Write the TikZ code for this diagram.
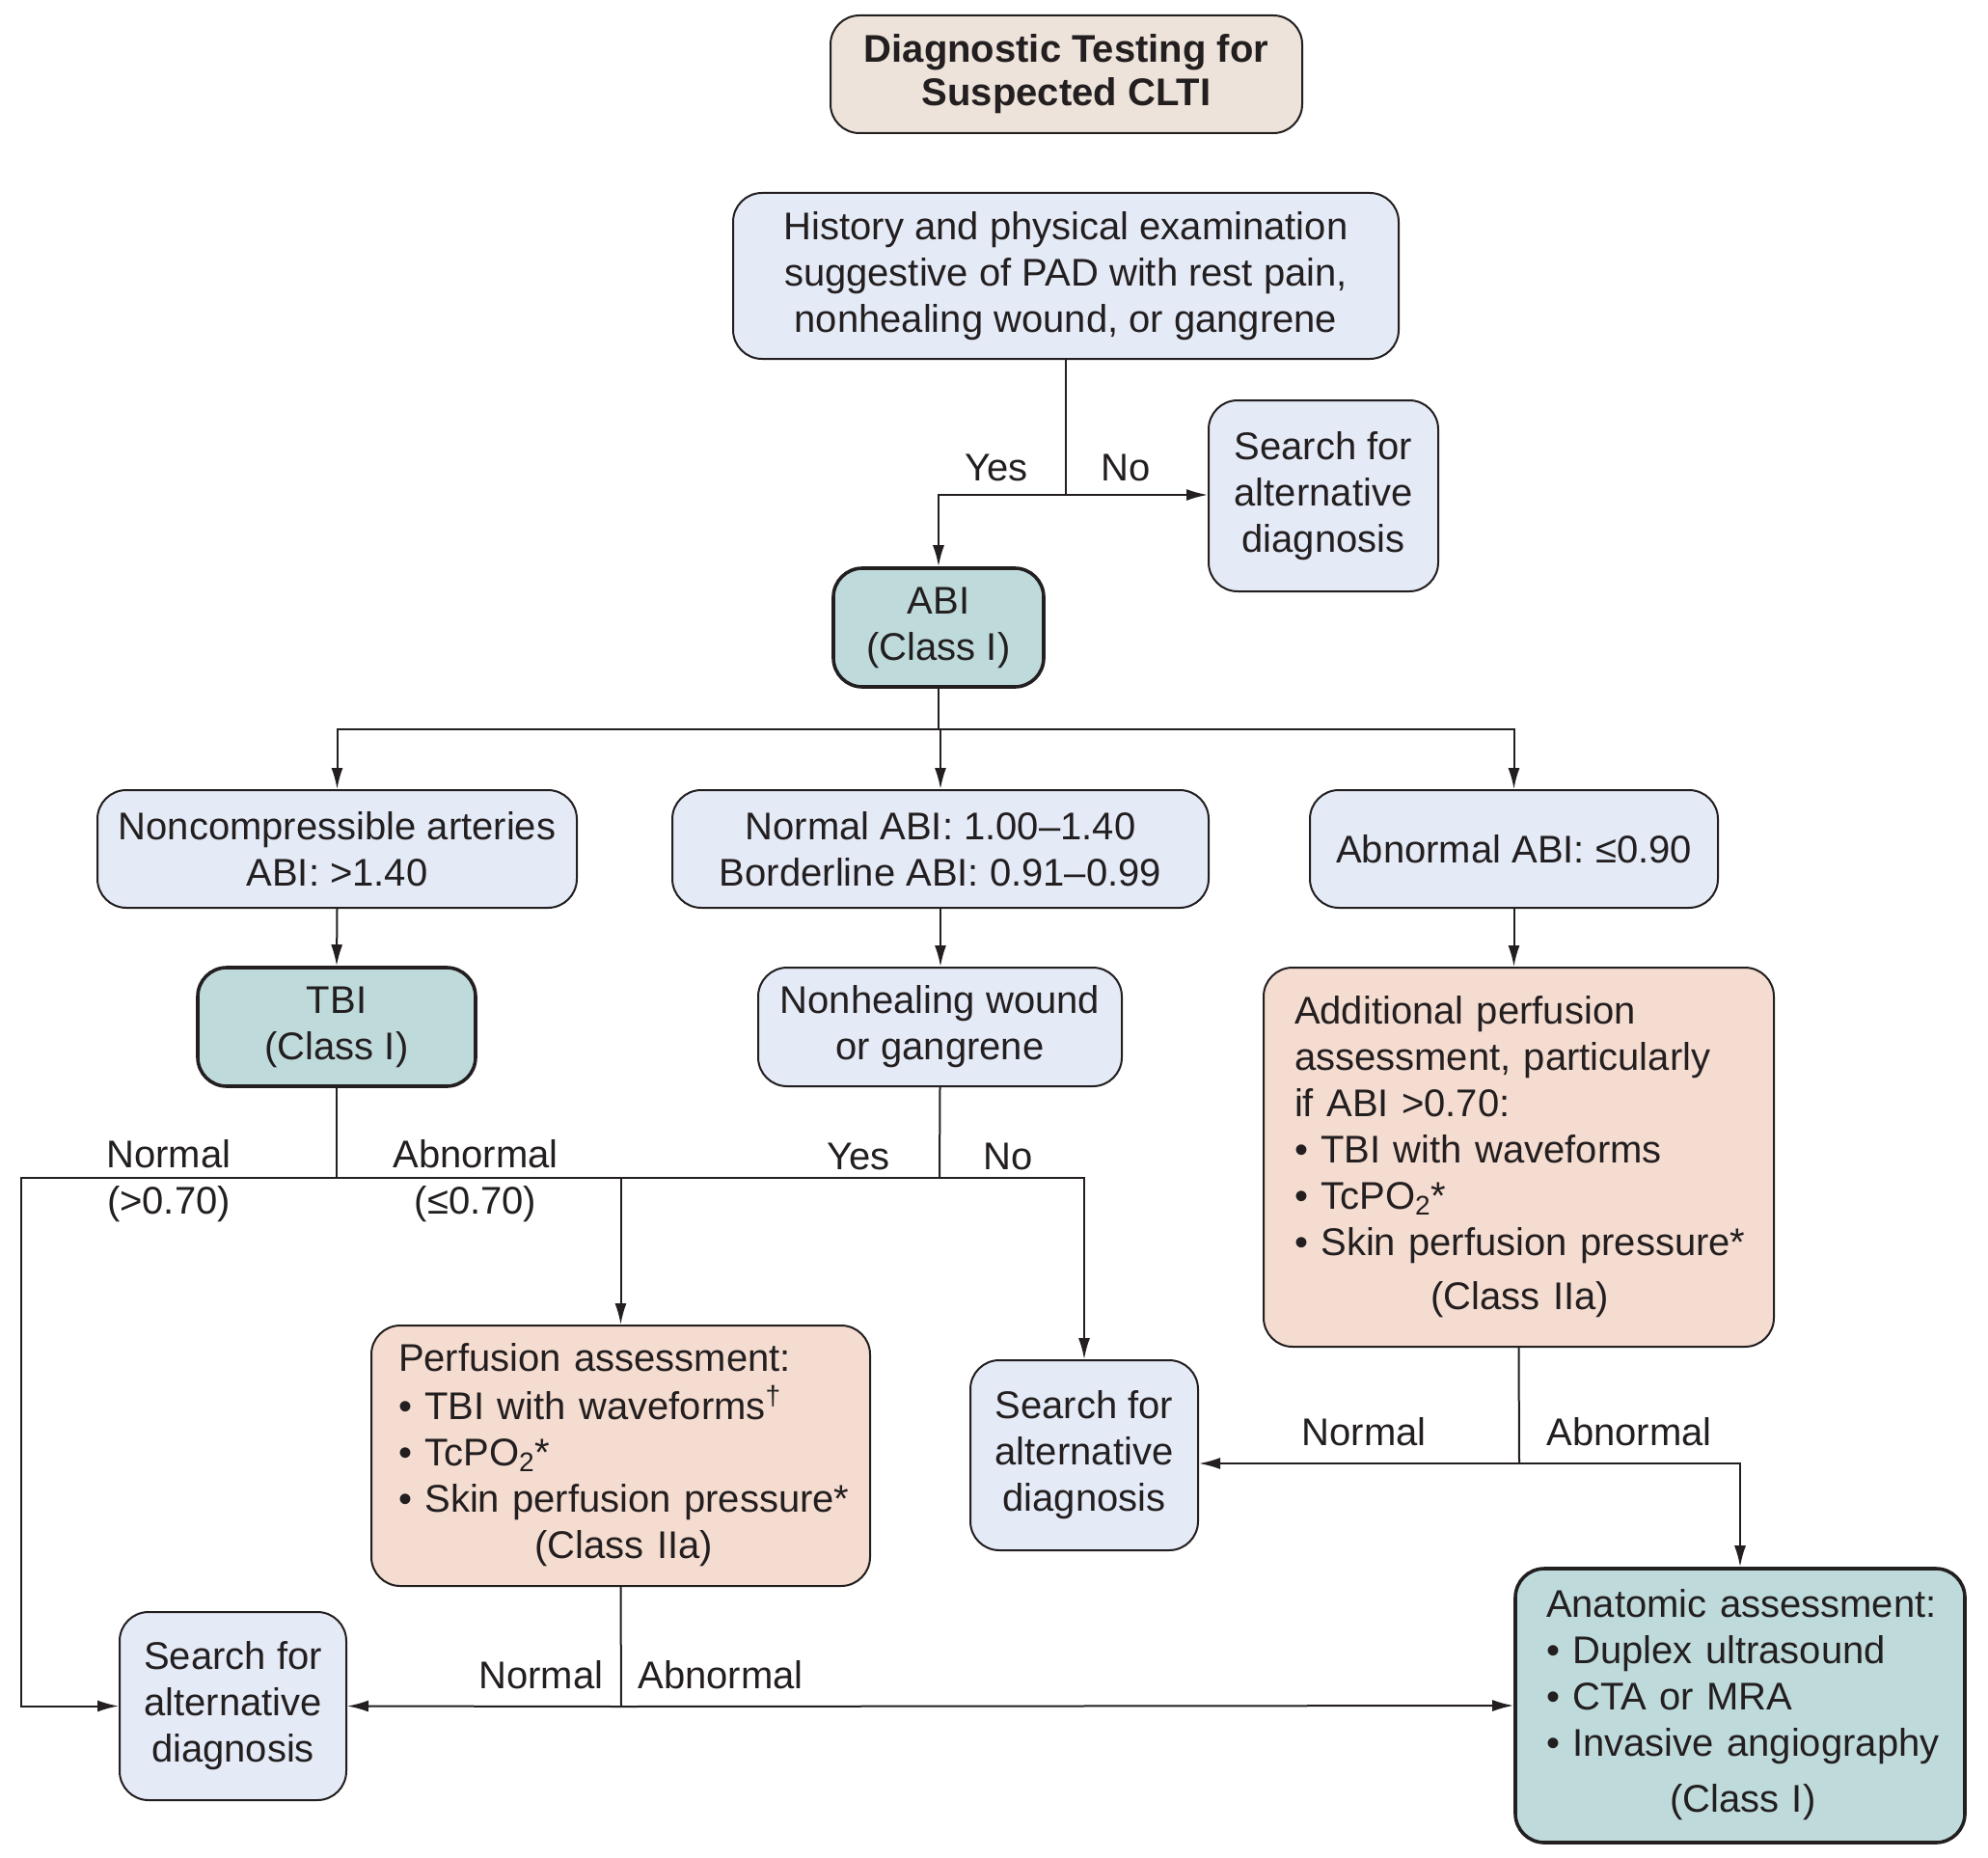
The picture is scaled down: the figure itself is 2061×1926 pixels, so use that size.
\documentclass[tikz,border=0pt]{standalone}
\usepackage{fontspec}
\setmainfont{Liberation Sans}
\usetikzlibrary{arrows.meta}
\definecolor{cblue}{RGB}{228,234,246}
\definecolor{cteal}{RGB}{191,218,219}
\definecolor{cpeach}{RGB}{245,220,208}
\definecolor{cbeige}{RGB}{237,227,218}
\definecolor{cline}{RGB}{35,31,32}
\begin{document}
\begin{tikzpicture}[x=0.5pt,y=-0.5pt,
 every node/.style={font=\fontsize{20}{24}\selectfont, text=cline},
 box/.style={draw=cline, line width=1pt, rounded corners=15pt, align=center, inner sep=0pt},
 bluebox/.style={box, fill=cblue},
 tealbox/.style={box, fill=cteal, line width=1.8pt},
 peachbox/.style={box, fill=cpeach},
 conn/.style={draw=cline, line width=1pt},
 arr/.style={conn, -{Latex[length=11pt,width=6pt]}},
 lbl/.style={inner sep=0pt}]
\useasboundingbox (0,0) rectangle (2061,1926);

% nodes
\node[box, fill=cbeige, minimum width=244.5pt, minimum height=61pt, font=\fontsize{20}{22.5}\selectfont\bfseries] (title) at (1105.5,77) {Diagnostic Testing for\\Suspected CLTI};
\node[bluebox, minimum width=345pt, minimum height=86pt] (hist) at (1105,286) {History and physical examination\\suggestive of PAD with rest pain,\\nonhealing wound, or gangrene};
\node[bluebox, minimum width=119pt, minimum height=99pt] (searchA) at (1372,514) {Search for\\alternative\\diagnosis};
\node[tealbox, minimum width=109pt, minimum height=61.5pt] (abi) at (973,650.5) {ABI\\(Class I)};
\node[bluebox, minimum width=248.5pt, minimum height=61pt] (noncomp) at (349.5,880) {Noncompressible arteries\\ABI: >1.40};
\node[bluebox, minimum width=278pt, minimum height=61pt] (normabi) at (975,880) {Normal ABI: 1.00–1.40\\Borderline ABI: 0.91–0.99};
\node[bluebox, minimum width=211.5pt, minimum height=61pt] (abnabi) at (1569.5,880) {Abnormal ABI: ≤0.90};
\node[tealbox, minimum width=144pt, minimum height=61.5pt] (tbi) at (349,1064.5) {TBI\\(Class I)};
\node[bluebox, minimum width=188.5pt, minimum height=61.5pt] (nonheal) at (974.5,1064.5) {Nonhealing wound\\or gangrene};
\node[peachbox, text width=232.5pt, inner xsep=16pt, inner ysep=0pt, minimum height=196.5pt, align=left] (addperf) at (1574.5,1199.5) {\begin{tabular}{@{}l@{}}Additional perfusion\\assessment, particularly\\if ABI >0.70:\\• TBI with waveforms\\• TcPO\textsubscript{2}*\\• Skin perfusion pressure*\\[4pt]\multicolumn{1}{@{}c@{}}{(Class IIa)}\end{tabular}};
\node[peachbox, text width=230.5pt, inner xsep=14pt, inner ysep=0pt, minimum height=135pt, align=left] (perf) at (643.5,1509) {\begin{tabular}{@{}l@{}}Perfusion assessment:\\• TBI with waveforms\textsuperscript{†}\\• TcPO\textsubscript{2}*\\• Skin perfusion pressure*\\\multicolumn{1}{@{}c@{}}{(Class IIa)}\end{tabular}};
\node[bluebox, minimum width=118pt, minimum height=98.5pt] (searchB) at (1124,1508.5) {Search for\\alternative\\diagnosis};
\node[bluebox, minimum width=117.5pt, minimum height=97.5pt] (searchC) at (241.5,1768.5) {Search for\\alternative\\diagnosis};
\node[tealbox, text width=201pt, inner xsep=16pt, inner ysep=0pt, minimum height=142pt, align=left] (anat) at (1804,1768) {\begin{tabular}{@{}l@{}}Anatomic assessment:\\• Duplex ultrasound\\• CTA or MRA\\• Invasive angiography\\[5pt]\multicolumn{1}{@{}c@{}}{(Class I)}\end{tabular}};

% junctions
\coordinate (j1) at (1105,513);
\coordinate (j2) at (973,756);
\coordinate (j3) at (349,1221);
\coordinate (c1) at (22,1221);
\coordinate (j4) at (974,1221);
\coordinate (j5) at (1575,1517);
\coordinate (j6) at (644,1769);

% connectors
\draw[conn] (hist.south) -- (j1);
\draw[arr] (j1) -- (j1 -| searchA.west);
\draw[arr] (j1) -| (abi.north);
\draw[conn] (abi.south) -- (j2);
\draw[arr] (j2) -| (noncomp.north);
\draw[arr] (j2) -| (normabi.north);
\draw[arr] (j2) -| (abnabi.north);
\draw[arr] (noncomp.south) -- (tbi.north);
\draw[arr] (normabi.south) -- (normabi.south |- nonheal.north);
\draw[arr] (abnabi.south) -- (abnabi.south |- addperf.north);
\draw[conn] (tbi.south) -- (j3);
\draw[arr] (j3) -- (c1) |- (searchC.west);
\draw[arr] (j3) -| (perf.north);
\draw[conn] (nonheal.south) -- (j4);
\draw[conn] (j4) -- (j4 -| perf.north);
\draw[arr] (j4) -| (searchB.north);
\draw[conn] (addperf.south) -- (j5);
\draw[arr] (j5) -- (j5 -| searchB.east);
\draw[arr] (j5) -| (anat.north);
\draw[conn] (perf.south) -- (j6);
\draw[arr] (j6) -- (searchC.east);
\draw[arr] (j6) -- (anat.west);

% labels
\node[lbl] (lyes1) at (1033,485) {Yes};
\node[lbl] (lno1) at (1167,485) {No};
\node[lbl, align=center] (lnorm1) at (175,1224) {Normal\\(>0.70)};
\node[lbl, align=center] (labn1) at (493,1224) {Abnormal\\(≤0.70)};
\node[lbl] (lyes2) at (890,1199) {Yes};
\node[lbl] (lno2) at (1045,1199) {No};
\node[lbl] (lnorm2) at (1414,1484) {Normal};
\node[lbl] (labn2) at (1689,1484) {Abnormal};
\node[lbl] (lnorm3) at (561,1736) {Normal};
\node[lbl] (labn3) at (747,1736) {Abnormal};
\end{tikzpicture}
\end{document}
